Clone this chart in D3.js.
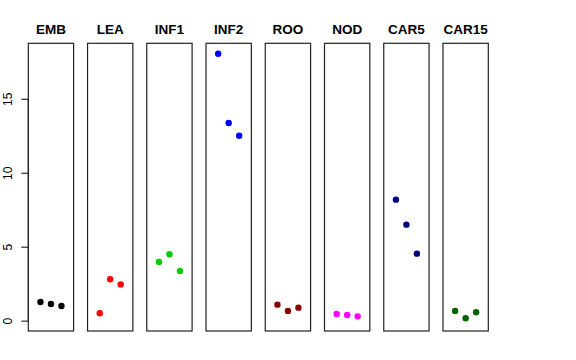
<!DOCTYPE html>
<html>
<head>
<meta charset="utf-8">
<script src="https://cdn.jsdelivr.net/npm/d3@7"></script>
<style>
  body { margin: 0; background: #fff; }
  svg { display: block; font-family: "Liberation Sans", Arial, sans-serif; }
  .panelTitle { font-weight: bold; font-size: 13.5px; text-anchor: middle; }
  .axis text { font-size: 12px; fill: #000; }
</style>
</head>
<body>
<script>
/* panel names and point colours */
var groups = ["EMB", "LEA", "INF1", "INF2", "ROO", "NOD", "CAR5", "CAR15"]
var colors = ["#000000", "#ff0000", "#00cd00", "#0000ff", "#8b0000", "#ff00ff", "#000080", "#006400"]

/* three replicate values per panel */
var EMB = [1.26, 1.13, 0.99]
var LEA = [0.5, 2.8, 2.45]
var INF1 = [3.97, 4.49, 3.36]
var INF2 = [18.04, 13.36, 12.5]
var ROO = [1.08, 0.66, 0.88]
var NOD = [0.45, 0.38, 0.29]
var CAR5 = [8.18, 6.49, 4.53]
var CAR15 = [0.66, 0.16, 0.57]

var values = [EMB, LEA, INF1, INF2, ROO, NOD, CAR5, CAR15]
var yTicks = [0, 5, 10, 15]

function main()
{
  var width = 576, height = 360
  var top = 43.3, bottom = 331

  var svg = d3.select("body")
    .append("svg")
    .attr("width", width)
    .attr("height", height)

  /* one band per panel */
  var band = d3.scaleBand()
    .domain(groups)
    .range([28.3, 488.3])
    .paddingInner(0.235)
    .paddingOuter(0)

  var y = d3.scaleLinear()
    .domain([-0.7, 18.75])
    .range([bottom, top])

  // replicate index 1..3 inside each panel, R style 4% padding around 0..4
  var x = d3.scaleLinear()
    .domain([-0.16, 4.16])
    .range([0, band.bandwidth()])

  /* y axis on the left of the first panel */
  var yAxis = d3.axisLeft(y)
    .tickValues(yTicks)
    .tickSize(7)

  var ax = svg.append("g")
    .attr("class", "axis")
    .attr("transform", "translate(" + band(groups[0]) + ",0)")
    .call(yAxis)

  ax.select(".domain")
    .attr("d", "M0," + y(0) + "V" + y(15))
    .attr("stroke", "#000")
  ax.selectAll("line").attr("stroke", "#000")

  // rotated labels like R's default las=0
  ax.selectAll("text")
    .attr("transform", "rotate(-90)")
    .attr("x", 0)
    .attr("y", -16)
    .attr("dy", 0)
    .style("text-anchor", "middle")

  var panels = svg.selectAll("g.panel")
    .data(groups)
    .enter()
    .append("g")
    .attr("class", "panel")
    .attr("transform", function(d) { return "translate(" + band(d) + ",0)" })

  panels.append("rect")
    .attr("x", 0)
    .attr("y", top)
    .attr("width", band.bandwidth())
    .attr("height", bottom - top)
    .attr("fill", "none")
    .attr("stroke", "#222")
    .attr("stroke-width", 1.2)

  panels.append("text")
    .attr("class", "panelTitle")
    .attr("x", band.bandwidth() / 2)
    .attr("y", 34)
    .text(function(d) { return d })

  panels.each(function(d, i)
  {
    d3.select(this).selectAll("circle")
      .data(values[i])
      .enter()
      .append("circle")
      .attr("cx", function(v, j) { return x(j + 1) })
      .attr("cy", function(v) { return y(v) })
      .attr("r", 3.2)
      .attr("fill", colors[i])
  })
}

main()
</script>
</body>
</html>
